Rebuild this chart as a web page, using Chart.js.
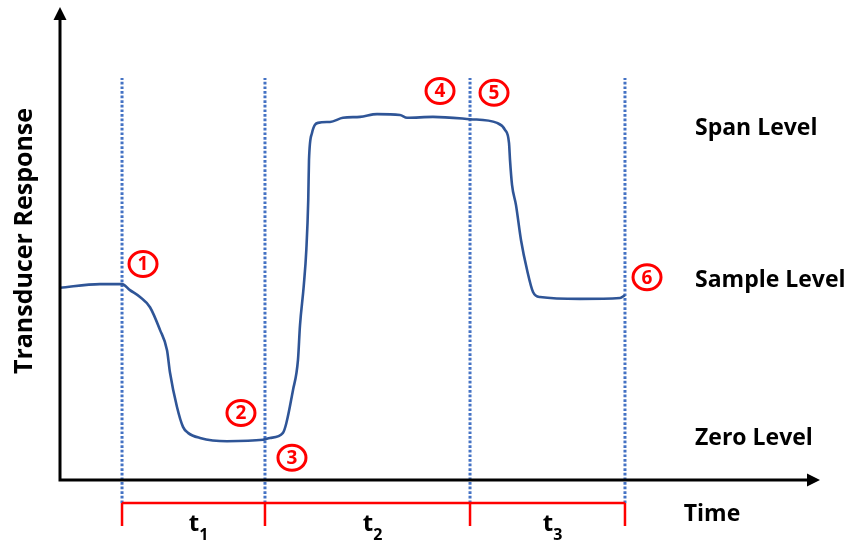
<!DOCTYPE html>
<html>
<head>
<meta charset="utf-8">
<script src="https://cdn.jsdelivr.net/npm/chart.js@4.4.1/dist/chart.umd.min.js"></script>
<style>
  body { margin: 0; background: #fff; }
  #wrap { width: 858px; height: 544px; position: relative; }
</style>
</head>
<body>
<div id="wrap"><canvas id="myGraph"></canvas></div>
<script>
"use strict";

// response curve (time units, response units)
const timeValues = [0, 5.33, 8.27, 9.33, 10.67, 12.0, 13.33, 14.27, 14.67, 15.6, 16.4, 17.07, 18.67, 22.27,
    27.07, 28.0, 29.73, 31.07, 31.73, 32.0, 32.5, 32.85, 33.1, 33.2, 33.6, 34.4, 36.0, 37.73, 40.0,
    42.27, 45.33, 46.27, 49.73, 54.67, 58.27, 59.33, 59.87, 60.0, 60.27, 60.8, 61.47, 62.27, 63.07,
    64.0, 69.33, 74.67, 75.33];
const responseValues = [41.6, 42.4, 42.4, 41.1, 39.6, 37.4, 32.5, 28.1, 23.2, 15.8, 11.5, 10.2, 9.1, 8.4,
    8.7, 9.1, 10.2, 19.5, 26.0, 33.5, 42.0, 50.0, 60.6, 69.3, 75.1, 77.3, 77.5, 78.4, 78.6,
    79.2, 79.0, 78.4, 78.6, 78.1, 77.3, 75.8, 72.9, 69.3, 63.9, 59.5, 51.9, 45.5, 40.7,
    39.6, 39.2, 39.4, 40.0];

// event times (dotted lines) and numbered markers
const eventTimes = [8.27, 27.33, 54.67, 75.33];
const markerLabels = ["1", "2", "3", "4", "5", "6"];
const markerTimes = [11.07, 24.13, 30.93, 50.67, 57.87, 78.27];
const markerResponses = [46.75, 14.5, 4.8, 84.2, 83.8, 43.9];

// level labels on the right
const levelLabels = ["Span Level", "Sample Level", "Zero Level"];
const levelResponses = [76.2, 43.1, 9.1];

// interval labels under the axis
const intervalNames = ["t", "t", "t"];
const intervalSubs = ["1", "2", "3"];

const curveColor = "#2f5597";
const dotColor = "#4472c4";
const red = "#ff0000";
const fontFamily = "'Open Sans', Lato, sans-serif";

const curveData = [];
for (let i = 0; i < timeValues.length; i++) {
    curveData.push({ x: timeValues[i], y: responseValues[i] });
}

const datasets = [
    {
        label: "Response",
        data: curveData,
        borderColor: curveColor,
        borderWidth: 2.6,
        pointRadius: 0,
        cubicInterpolationMode: "monotone",
        fill: false,
    },
];

for (let i = 0; i < eventTimes.length; i++) {
    datasets.push({
        label: "event" + (i + 1),
        data: [{ x: eventTimes[i], y: -5 }, { x: eventTimes[i], y: 87 }],
        borderColor: dotColor,
        borderWidth: 3,
        borderDash: [2.7, 1.9],
        pointRadius: 0,
        clip: false,
    });
}

const drawingPlugin = {
    id: "drawing",
    afterDraw(chart) {
        const ctx = chart.ctx;
        const xs = chart.scales.x;
        const ys = chart.scales.y;
        const x0 = xs.getPixelForValue(0);
        const y0 = ys.getPixelForValue(0);

        ctx.save();
        // axes with arrows
        ctx.strokeStyle = "#000";
        ctx.fillStyle = "#000";
        ctx.lineWidth = 3;
        ctx.beginPath();
        ctx.moveTo(x0, y0 + 1.5);
        ctx.lineTo(x0, 18);
        ctx.moveTo(x0 - 1.5, y0);
        ctx.lineTo(808, y0);
        ctx.stroke();
        ctx.beginPath();
        ctx.moveTo(x0, 7);
        ctx.lineTo(x0 - 6.5, 20);
        ctx.lineTo(x0 + 6.5, 20);
        ctx.closePath();
        ctx.fill();
        ctx.beginPath();
        ctx.moveTo(820, y0);
        ctx.lineTo(807, y0 - 6.5);
        ctx.lineTo(807, y0 + 6.5);
        ctx.closePath();
        ctx.fill();

        // red interval bracket
        const bY = 503;
        ctx.strokeStyle = red;
        ctx.lineWidth = 2.5;
        ctx.beginPath();
        ctx.moveTo(xs.getPixelForValue(eventTimes[0]), bY);
        ctx.lineTo(xs.getPixelForValue(eventTimes[eventTimes.length - 1]), bY);
        for (let i = 0; i < eventTimes.length; i++) {
            const px = xs.getPixelForValue(eventTimes[i]);
            ctx.moveTo(px, bY);
            ctx.lineTo(px, 526);
        }
        ctx.stroke();

        // t1, t2, t3
        ctx.fillStyle = "#000";
        ctx.textBaseline = "alphabetic";
        for (let i = 0; i < intervalNames.length; i++) {
            const mid = (xs.getPixelForValue(eventTimes[i]) + xs.getPixelForValue(eventTimes[i + 1])) / 2;
            ctx.font = "bold 24px " + fontFamily;
            const w1 = ctx.measureText(intervalNames[i]).width;
            ctx.font = "bold 16px " + fontFamily;
            const w2 = ctx.measureText(intervalSubs[i]).width;
            const start = mid - (w1 + w2) / 2 + 5;
            ctx.font = "bold 24px " + fontFamily;
            ctx.textAlign = "left";
            ctx.fillText(intervalNames[i], start, 531);
            ctx.font = "bold 16px " + fontFamily;
            ctx.fillText(intervalSubs[i], start + w1, 540);
        }

        // Time label
        ctx.font = "bold 23px " + fontFamily;
        ctx.textAlign = "center";
        ctx.textBaseline = "middle";
        ctx.fillText("Time", 712, 514);

        // level labels
        ctx.textAlign = "left";
        for (let i = 0; i < levelLabels.length; i++) {
            ctx.fillText(levelLabels[i], 695, ys.getPixelForValue(levelResponses[i]));
        }

        // y axis title
        ctx.save();
        ctx.translate(25, 241);
        ctx.rotate(-Math.PI / 2);
        ctx.textAlign = "center";
        ctx.font = "bold 25px " + fontFamily;
        ctx.fillText("Transducer Response", 0, 0);
        ctx.restore();

        // numbered red circles
        for (let i = 0; i < markerLabels.length; i++) {
            const mx = xs.getPixelForValue(markerTimes[i]);
            const my = ys.getPixelForValue(markerResponses[i]);
            ctx.fillStyle = "#fff";
            ctx.strokeStyle = red;
            ctx.lineWidth = 3;
            ctx.beginPath();
            ctx.ellipse(mx, my, 14, 12.5, 0, 0, Math.PI * 2);
            ctx.fill();
            ctx.stroke();
            ctx.fillStyle = red;
            ctx.font = "bold 19px " + fontFamily;
            ctx.textAlign = "center";
            ctx.textBaseline = "middle";
            ctx.fillText(markerLabels[i], mx, my + 1);
        }
        ctx.restore();
    },
};

new Chart(document.getElementById("myGraph"), {
    type: "line",
    data: { datasets: datasets },
    options: {
        responsive: true,
        maintainAspectRatio: false,
        animation: false,
        layout: { padding: { left: 60, right: 48, top: 18, bottom: 64 } },
        plugins: {
            legend: { display: false },
            tooltip: { enabled: false },
        },
        scales: {
            x: { type: "linear", min: 0, max: 100, display: false },
            y: { type: "linear", min: 0, max: 100, display: false },
        },
    },
    plugins: [drawingPlugin],
});
</script>
</body>
</html>
